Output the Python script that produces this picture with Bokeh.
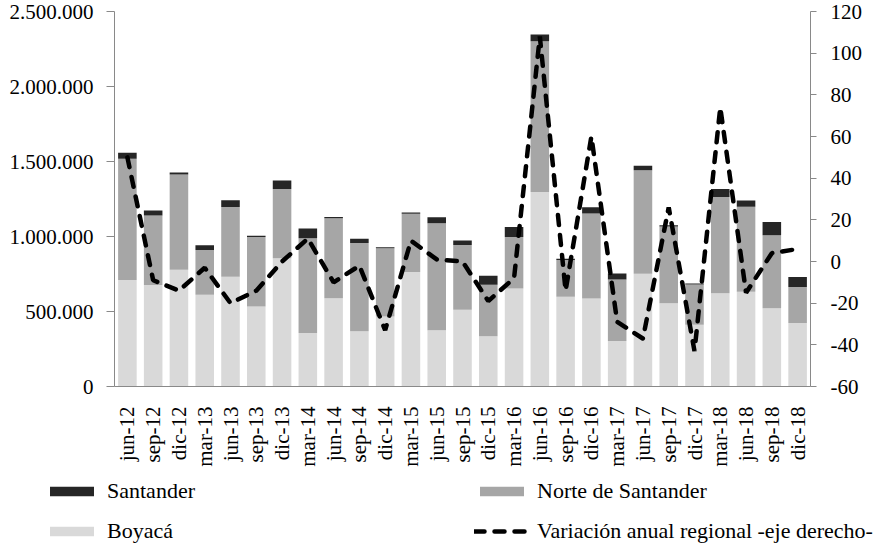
import math
from bokeh.plotting import figure
from bokeh.models import (FactorRange, Range1d, LinearAxis, FixedTicker, Legend, LegendItem,
                          ColumnDataSource)
from bokeh.embed import file_html
from bokeh.resources import INLINE

categories = ["jun-12", "sep-12", "dic-12", "mar-13", "jun-13", "sep-13", "dic-13",
              "mar-14", "jun-14", "sep-14", "dic-14", "mar-15", "jun-15", "sep-15",
              "dic-15", "mar-16", "jun-16", "sep-16", "dic-16", "mar-17", "jun-17",
              "sep-17", "dic-17", "mar-18", "jun-18", "sep-18", "dic-18"]

boyaca = [710000, 676000, 778000, 612000, 732000, 533000, 855000, 357000, 588000,
          368000, 467000, 763000, 375000, 511000, 335000, 653000, 1296000, 599000,
          587000, 303000, 752000, 555000, 412000, 621000, 632000, 522000, 423000]
norte = [808000, 464000, 636000, 298000, 465000, 463000, 461000, 632000, 533000,
         588000, 454000, 388000, 713000, 432000, 344000, 344000, 1005000, 245000,
         566000, 410000, 689000, 511000, 268000, 642000, 566000, 487000, 241000]
santander = [41000, 33000, 13000, 31000, 44000, 9000, 57000, 64000, 9000,
             29000, 7000, 9000, 40000, 31000, 59000, 66000, 46000, 7000,
             42000, 40000, 31000, 9000, 7000, 53000, 42000, 88000, 66000]
variacion = [50, -9, -14, -3, -20, -14, 0, 11, -10, -2, -33, 10, 1, 0, -19, -8,
             108, -14, 60, -29, -37, 26, -43, 74, -15, 4, 6]

left_ticks = [0, 500000, 1000000, 1500000, 2000000, 2500000]
left_labels = ["0", "500.000", "1.000.000", "1.500.000", "2.000.000", "2.500.000"]
right_ticks = [-60, -40, -20, 0, 20, 40, 60, 80, 100, 120]
right_labels = ["-60", "-40", "-20", "0", "20", "40", "60", "80", "100", "120"]

series_names = ["Santander", "Norte de Santander", "Boyacá",
                "Variación anual regional -eje derecho-"]
COL_BOY, COL_NOR, COL_SAN = "#D9D9D9", "#A6A6A6", "#262626"

FONT = "'Liberation Serif', 'Times New Roman', serif"
FS = "21px"
LFS = "22px"
AXIS_COLOR = "#898989"
DASH = "10 10"
LW = 4.5

src = ColumnDataSource(dict(cat=categories, boyaca=boyaca, norte=norte,
                            santander=santander, variacion=variacion))

p = figure(width=877, height=472, x_range=FactorRange(*categories, range_padding=0),
           y_range=Range1d(0, 2500000), output_backend="svg", toolbar_location=None,
           min_border_left=114, min_border_right=67, min_border_top=11, min_border_bottom=86)
p.extra_y_ranges = {"pct": Range1d(-60, 120)}
p.outline_line_color = None
p.xgrid.visible = False
p.ygrid.visible = False

rs = p.vbar_stack(["boyaca", "norte", "santander"], x="cat", width=0.72, source=src,
                  color=[COL_BOY, COL_NOR, COL_SAN], line_color=None)
ln = p.line(x="cat", y="variacion", source=src, y_range_name="pct", line_color="black",
            line_width=LW, line_dash=DASH, line_cap="round")

ya = p.yaxis[0]
ya.ticker = FixedTicker(ticks=left_ticks)
ya.major_label_overrides = dict(zip(left_ticks, left_labels))
ya.minor_tick_line_color = None
ya.major_tick_out = 8
ya.major_tick_in = 0
ya.major_label_standoff = 13
ya.axis_line_color = AXIS_COLOR
ya.major_tick_line_color = AXIS_COLOR

ra = LinearAxis(y_range_name="pct", ticker=FixedTicker(ticks=right_ticks))
ra.major_label_overrides = dict(zip(right_ticks, right_labels))
ra.minor_tick_line_color = None
ra.major_tick_out = 6
ra.major_tick_in = 0
ra.major_label_standoff = 14
ra.axis_line_color = AXIS_COLOR
ra.major_tick_line_color = AXIS_COLOR
p.add_layout(ra, "right")

xa = p.xaxis[0]
xa.major_label_orientation = math.pi / 2
xa.major_tick_line_color = None
xa.axis_line_color = AXIS_COLOR
xa.major_label_standoff = 14

for ax in (ya, ra, xa):
    ax.major_label_text_font = FONT
    ax.major_label_text_font_size = FS
    ax.major_label_text_color = "black"

# legend strip below the chart: same series, drawn outside its visible range,
# so only the legend swatches show
p2 = figure(width=877, height=72, x_range=FactorRange(*categories),
            y_range=Range1d(5e6, 6e6), output_backend="svg", toolbar_location=None,
            x_axis_location=None, y_axis_location=None,
            min_border_left=0, min_border_right=0, min_border_top=0, min_border_bottom=0)
p2.grid.visible = False
p2.outline_line_color = None
g_san = p2.vbar(x="cat", top="santander", width=0.7, source=src, color=COL_SAN, line_color=None)
g_nor = p2.vbar(x="cat", top="norte", width=0.7, source=src, color=COL_NOR, line_color=None)
g_boy = p2.vbar(x="cat", top="boyaca", width=0.7, source=src, color=COL_BOY, line_color=None)
g_var = p2.line(x="cat", y="variacion", source=src, line_color="black", line_width=LW,
                line_dash=DASH, line_cap="round")

def make_legend(items, x, y):
    return Legend(items=items, location=(x, y), orientation="vertical",
                  glyph_width=55, glyph_height=12, label_height=22, spacing=14,
                  label_standoff=8, padding=0, margin=0, border_line_color=None,
                  background_fill_alpha=0, label_text_font=FONT,
                  label_text_font_size=LFS, label_text_color="black")

lg1 = make_legend([LegendItem(label=series_names[0], renderers=[g_san]),
                   LegendItem(label=series_names[2], renderers=[g_boy])], 44, 0)
lg2 = make_legend([LegendItem(label=series_names[1], renderers=[g_nor]),
                   LegendItem(label=series_names[3], renderers=[g_var])], 474, 0)
p2.add_layout(lg1)
p2.add_layout(lg2)

open("out.html", "w").write(file_html([p, p2], INLINE))
